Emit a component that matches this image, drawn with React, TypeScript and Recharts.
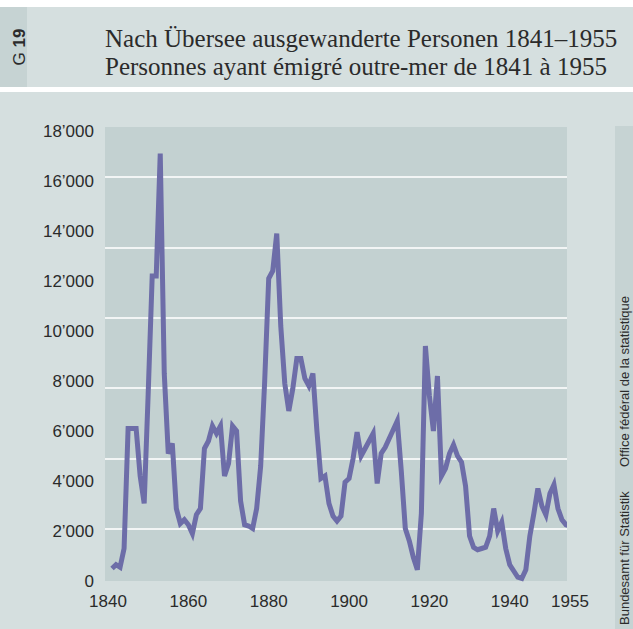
import { LineChart, Line, XAxis, YAxis, CartesianGrid, ReferenceLine } from 'recharts'

const firstYear = 1841

// Nach Übersee ausgewanderte Personen pro Jahr, 1841–1955
const emigrants = [
  // 1841–1850
  500, 650, 550, 1300, 6100, 6100, 6100, 4200, 3100, 7500,
  // 1851–1860
  12200, 12200, 17100, 8300, 5100, 5500, 2900, 2300, 2450, 2250,
  // 1861–1870
  1900, 2650, 2900, 5300, 5600, 6200, 5900, 6200, 4200, 4700,
  // 1871–1880
  6200, 6000, 3200, 2250, 2200, 2100, 2900, 4600, 8000, 12100,
  // 1881–1890
  12400, 13900, 10200, 7900, 6800, 7700, 8900, 8900, 8100, 7800,
  // 1891–1900
  8300, 6000, 4100, 4200, 3100, 2600, 2400, 2600, 3950, 4100,
  // 1901–1910
  4900, 5950, 5000, 5300, 5600, 5900, 3900, 5100, 5350, 5700,
  // 1911–1920
  6050, 6400, 4400, 2100, 1600, 950, 450, 2700, 9400, 7400,
  // 1921–1930
  6000, 8200, 4200, 4500, 5100, 5450, 5000, 4750, 3800, 1800,
  // 1931–1940
  1350, 1250, 1300, 1350, 1800, 2900, 2000, 2350, 1300, 650,
  // 1941–1950
  400, 150, 100, 450, 1800, 2700, 3700, 3000, 2650, 3500,
  // 1951–1955
  3850, 2900, 2450, 2250, 2200,
]

const xTicks = [1840, 1860, 1880, 1900, 1920, 1940, 1955]
const yTicks = [0, 2000, 4000, 6000, 8000, 10000, 12000, 14000, 16000, 18000]
// white grid lines of the original sit off the labelled ticks
const gridValues = [2080, 4880, 7720, 10520, 13320, 16160]

const titleDe = 'Nach Übersee ausgewanderte Personen 1841–1955'
const titleFr = 'Personnes ayant émigré outre-mer de 1841 à 1955'
const sourceDe = 'Bundesamt für Statistik'
const sourceFr = 'Office fédéral de la statistique'

const panel = '#d5dfdf'
const strip = '#c6d3d3'
const plotBg = '#c3d1d1'
const lineColor = '#6d6da8'
const textColor = '#2b2b2b'
const sans = '"Liberation Sans", Arial, sans-serif'

const formatThousands = (v: number) => (v === 0 ? '0' : `${v / 1000}’000`)

export default function App() {
  const data = emigrants.map((v, i) => ({ year: firstYear + i, value: v }))

  return (
    <div style={{ position: 'absolute', left: 0, top: 0, width: 633, height: 629, background: '#fff', overflow: 'hidden' }}>
      {/* header */}
      <div style={{ position: 'absolute', left: 0, top: 7, width: 633, height: 80, background: panel }} />
      <div style={{ position: 'absolute', left: 0, top: 7, width: 27, height: 80, background: strip }} />
      <div
        style={{
          position: 'absolute', left: 19, top: 47, transform: 'translate(-50%, -50%) rotate(-90deg)',
          fontFamily: sans, fontSize: 17, color: textColor, whiteSpace: 'nowrap', lineHeight: 1,
        }}
      >
        G <b>19</b>
      </div>
      <div
        style={{
          position: 'absolute', left: 105, top: 25, fontFamily: '"Liberation Serif", "DejaVu Serif", serif',
          fontSize: 25, lineHeight: '28px', color: textColor, whiteSpace: 'nowrap',
        }}
      >
        <div>{titleDe}</div>
        <div>{titleFr}</div>
      </div>

      {/* chart panel */}
      <div style={{ position: 'absolute', left: 0, top: 92, width: 633, height: 537, background: panel }} />
      <div style={{ position: 'absolute', left: 615, top: 126, width: 18, height: 503, background: strip }} />
      <svg style={{ position: 'absolute', left: 0, top: 0 }} width={633} height={629}>
        <text
          x={629} y={625} transform="rotate(-90 629 625)" textAnchor="start"
          fontFamily={sans} fontSize={13} fill={textColor}
        >
          {sourceDe}
        </text>
        <text
          x={629} y={467} transform="rotate(-90 629 467)" textAnchor="start"
          fontFamily={sans} fontSize={13} fill={textColor}
        >
          {sourceFr}
        </text>
      </svg>

      <div style={{ position: 'absolute', left: 0, top: 0 }}>
        <LineChart width={633} height={629} data={data} margin={{ top: 127, right: 66, bottom: 18, left: 0 }}>
          <CartesianGrid fill={plotBg} stroke="none" horizontal={false} vertical={false} />
          {gridValues.map((g) => (
            <ReferenceLine key={g} y={g} stroke="#f2f5f5" strokeWidth={2} />
          ))}
          <XAxis
            dataKey="year"
            type="number"
            domain={[1839.25, 1954.25]}
            allowDataOverflow
            ticks={xTicks}
            interval={0}
            axisLine={false}
            tickLine={false}
            tickSize={6}
            tickMargin={8}
            tick={{ fill: textColor, fontSize: 17, fontFamily: sans }}
          />
          <YAxis
            type="number"
            domain={[0, 18160]}
            ticks={yTicks}
            interval={0}
            width={105}
            axisLine={false}
            tickLine={false}
            tickSize={6}
            tickMargin={5}
            tickFormatter={formatThousands}
            tick={{ fill: textColor, fontSize: 17, fontFamily: sans }}
          />
          <Line
            type="linear"
            dataKey="value"
            stroke={lineColor}
            strokeWidth={5}
            dot={false}
            activeDot={false}
            isAnimationActive={false}
          />
        </LineChart>
      </div>
    </div>
  )
}
